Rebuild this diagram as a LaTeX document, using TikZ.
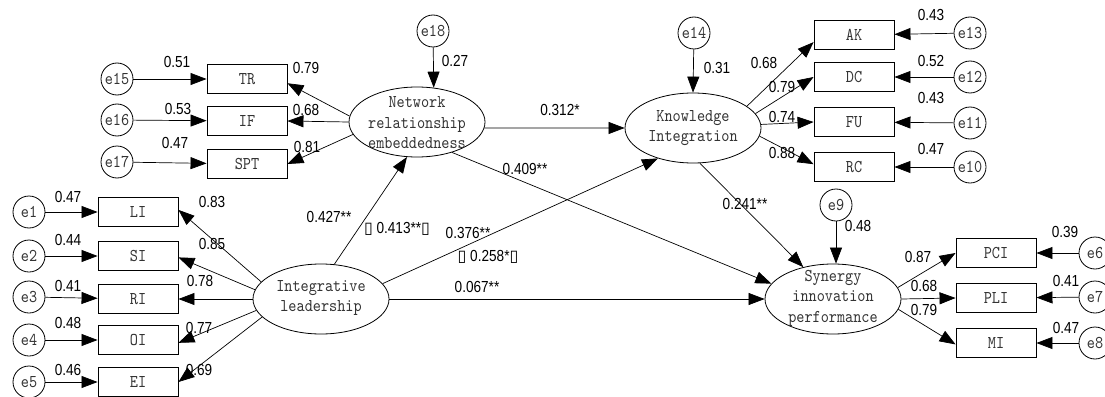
\documentclass[tikz,border=0pt]{standalone}
\usepackage{fontspec}
\setmainfont{Liberation Sans}
\newfontfamily\numfont[FakeStretch=0.85]{Liberation Sans}
\newfontfamily\labfont{lmmono10-regular}[Extension=.otf,FakeStretch=0.86]
\newfontfamily\symfont{DejaVu Sans}
\newcommand\tofu{{\symfont\char"25AF}}
\usetikzlibrary{arrows.meta,shapes.geometric}
\begin{document}
\begin{tikzpicture}[x=1pt,y=-1pt,
 obs/.style={draw,line width=0.9pt,minimum width=80pt,minimum height=29pt,inner sep=0pt,font={\labfont\fontsize{18}{18}\selectfont},text=black!80},
 err/.style={draw,circle,line width=0.8pt,minimum size=32pt,inner sep=0pt,font={\labfont\fontsize{18}{18}\selectfont},text=black!80},
 lat/.style={draw,ellipse,line width=0.8pt,minimum width=136pt,minimum height=70pt,inner sep=0pt},
 lattext/.style={align=center,inner sep=0pt,font={\labfont\fontsize{18}{20.5}\selectfont},text=black!80},
 num/.style={inner sep=0pt,font={\numfont\fontsize{16}{16}\selectfont}},
 arr/.style={-{Triangle[length=16pt,width=12pt]},line width=0.7pt}
]
\useasboundingbox (0,0) rectangle (1105,396);
% latent variables
\node[lat] (NRE) at (417,122) {};
\node[lattext] (NREt) at (417,123) {Network\\relationship\\embeddedness};
\node[lat] (KI) at (693,128) {};
\node[lattext] (KIt) at (693,128) {Knowledge\\Integration};
\node[lat] (IL) at (321,299) {};
\node[lattext] (ILt) at (321,298) {Integrative\\leadership};
\node[lat] (SIP) at (833,299) {};
\node[lattext] (SIPt) at (833,298) {Synergy\\innovation\\performance};
% observed
\node[obs] (TR) at (247,79) {TR};
\node[obs] (IF) at (247,121) {IF};
\node[obs] (SPT) at (247,164) {SPT};
\node[obs] (LI) at (138,212) {LI};
\node[obs] (SI) at (138,256) {SI};
\node[obs] (RI) at (138,299) {RI};
\node[obs] (OI) at (138,340) {OI};
\node[obs] (EI) at (138,382) {EI};
\node[obs] (AK) at (854,35) {AK};
\node[obs] (DC) at (854,77) {DC};
\node[obs] (FU) at (854,122) {FU};
\node[obs] (RC) at (854,167) {RC};
\node[obs] (PCI) at (996,253) {PCI};
\node[obs] (PLI) at (996,298) {PLI};
\node[obs] (MI) at (996,343) {MI};
% errors
\node[err] (e15) at (117,79) {e15};
\node[err] (e16) at (117,120) {e16};
\node[err] (e17) at (117,162) {e17};
\node[err] (e18) at (433,31) {e18};
\node[err] (e1) at (29,212) {e1};
\node[err] (e2) at (29,256) {e2};
\node[err] (e3) at (29,297) {e3};
\node[err] (e4) at (29,340) {e4};
\node[err] (e5) at (29,382) {e5};
\node[err] (e14) at (694,33) {e14};
\node[err] (e13) at (970,33) {e13};
\node[err] (e12) at (970,77) {e12};
\node[err] (e11) at (970,123) {e11};
\node[err] (e10) at (970,167) {e10};
\node[err] (e9) at (836,205) {e9};
\node[err] (e6) at (1095,253) {e6};
\node[err] (e7) at (1095,297) {e7};
\node[err] (e8) at (1095,343) {e8};
% error arrows
\draw[arr] (e15) -- (TR);
\draw[arr] (e16) -- (IF);
\draw[arr] (e17) -- (SPT);
\draw[arr] (e1) -- (LI);
\draw[arr] (e2) -- (SI);
\draw[arr] (e3) -- (RI);
\draw[arr] (e4) -- (OI);
\draw[arr] (e5) -- (EI);
\draw[arr] (e13) -- (AK);
\draw[arr] (e12) -- (DC);
\draw[arr] (e11) -- (FU);
\draw[arr] (e10) -- (RC);
\draw[arr] (e6) -- (PCI);
\draw[arr] (e7) -- (PLI);
\draw[arr] (e8) -- (MI);
\draw[arr] (e18) -- (NRE.64);
\draw[arr] (e14) -- (KI.north);
\draw[arr] (e9.south) -- (e9.south |- SIP.north);
% measurement arrows
\draw[arr] (NRE.175) -- (TR.-6);
\draw[arr] (NRE.180) -- (IF.east);
\draw[arr] (NRE.191) -- (SPT.east);
\draw[arr] (IL.164) -- (LI.3);
\draw[arr] (IL.172) -- (SI.-2);
\draw[arr] (IL.180) -- (RI.east);
\draw[arr] (IL.190) -- (OI.-4);
\draw[arr] (IL.197) -- (EI.east);
\draw[arr] (KI.22) -- (AK.190);
\draw[arr] (KI.13) -- (DC.west);
\draw[arr] (KI.3) -- (FU.west);
\draw[arr] (KI.-7) -- (RC.176);
\draw[arr] (SIP.10) -- (PCI.west);
\draw[arr] (SIP.0) -- (PLI.west);
\draw[arr] (SIP.-9) -- (MI.182);
% structural arrows
\draw[arr] (IL.69) -- (NRE.254);
\draw[arr] (IL.14) -- (KI.221);
\draw[arr] (IL.0) -- (SIP.180);
\draw[arr] (NRE.-5) -- (KI.180);
\draw[arr] (NRE.319) -- (SIP.166);
\draw[arr] (KI.281) -- (SIP.133);
% labels
\node[num] (n1) at (177,62) {0.51};
\node[num] (n2) at (178,109) {0.53};
\node[num] (n3) at (175,143) {0.47};
\node[num] (n4) at (306,68) {0.79};
\node[num] (n5) at (306,110) {0.68};
\node[num] (n6) at (307,147) {0.81};
\node[num] (n7) at (455,61) {0.27};
\node[num] (n8) at (68,197) {0.47};
\node[num] (n9) at (68,240) {0.44};
\node[num] (n10) at (68,286) {0.41};
\node[num] (n11) at (68,323) {0.48};
\node[num] (n12) at (68,370) {0.46};
\node[num] (n13) at (212,202) {0.83};
\node[num] (n14) at (212,244) {0.85};
\node[num] (n15) at (200,281) {0.78};
\node[num] (n16) at (199,328) {0.77};
\node[num] (n17) at (199,370) {0.69};
\node[num] (n18) at (329,217) {0.427**};
\node[num] (n19) at (397,229) {\tofu\ 0.413**\tofu};
\node[num] (n20) at (468,233) {0.376**};
\node[num] (n21) at (488,257) {\tofu\ 0.258*\tofu};
\node[num] (n22) at (477,287) {0.067**};
\node[num] (n23) at (560,110) {0.312*};
\node[num] (n24) at (525,169) {0.409**};
\node[num] (n25) at (717,68) {0.31};
\node[num] (n26) at (931,15) {0.43};
\node[num] (n27) at (931,61) {0.52};
\node[num] (n28) at (931,98) {0.43};
\node[num] (n29) at (931,149) {0.47};
\node[num] (n30) at (764,63) {0.68};
\node[num] (n31) at (782,87) {0.79};
\node[num] (n32) at (782,117) {0.74};
\node[num] (n33) at (782,153) {0.88};
\node[num] (n34) at (745,204) {0.241**};
\node[num] (n35) at (858,226) {0.48};
\node[num] (n36) at (918,257) {0.87};
\node[num] (n37) at (924,286) {0.68};
\node[num] (n38) at (924,310) {0.79};
\node[num] (n39) at (1065,232) {0.39};
\node[num] (n40) at (1066,281) {0.41};
\node[num] (n41) at (1066,328) {0.47};
\end{tikzpicture}
\end{document}
